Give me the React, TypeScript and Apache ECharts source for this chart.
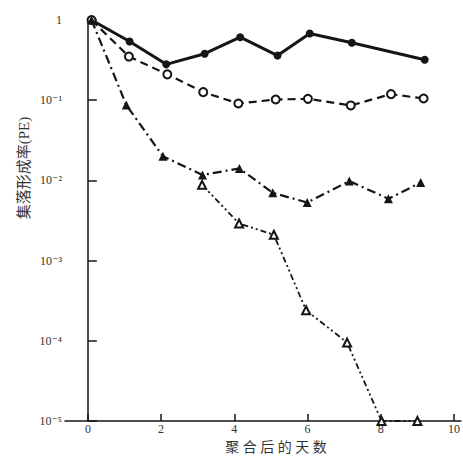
import React, { useEffect, useRef } from "react";
import * as echarts from "echarts";

// Days after aggregation and plating efficiency (PE)
const solidDays = [0.1, 1.14, 2.14, 3.19, 4.16, 5.18, 6.06, 7.21, 9.2];
const solidPE = [1, 0.54, 0.28, 0.38, 0.61, 0.36, 0.68, 0.52, 0.32];

const openCircleDays = [0.1, 1.12, 2.17, 3.15, 4.11, 5.13, 6.01, 7.18, 8.28, 9.17];
const openCirclePE = [1, 0.35, 0.21, 0.126, 0.091, 0.102, 0.104, 0.086, 0.119, 0.105];

const filledTriDays = [0.1, 1.05, 2.05, 3.13, 4.14, 5.05, 5.99, 7.14, 8.21, 9.09];
const filledTriPE = [1, 0.087, 0.02, 0.0117, 0.0141, 0.007, 0.0053, 0.0098, 0.0059, 0.0094];

const openTriDays = [3.12, 4.13, 5.08, 5.96, 7.08, 8.02, 9.0];
const openTriPE = [0.0088, 0.0029, 0.0021, 0.00024, 0.000095, 0.00001, 0.00001];

const xTicks = [0, 2, 4, 6, 8, 10];
const yTickLabels = ["10⁻⁵", "10⁻⁴", "10⁻³", "10⁻²", "10⁻¹", "1"];

const xTitle = "聚 合 后 的 天 数";
const yTitle = "集落形成率(PE)";

const pairs = (xs: number[], ys: number[]) => xs.map((x, i) => [x, ys[i]]);

const INK = "#151515";
const SERIF = "'Liberation Serif', 'DejaVu Serif', 'Noto Sans CJK SC', serif";

export default function App() {
  const ref = useRef<HTMLDivElement>(null);
  useEffect(() => {
    if (!ref.current) return;
    const chart = echarts.init(ref.current, null, { renderer: "svg" });
    chart.setOption({
      animation: false,
      backgroundColor: "#fff",
      grid: { left: 65, right: 0, top: 20, bottom: 40 },
      xAxis: {
        type: "value",
        min: -0.625,
        max: 10.19,
        splitLine: { show: false },
        axisLine: { lineStyle: { color: INK, width: 1.5 } },
        axisTick: {
          inside: true,
          length: 7,
          customValues: xTicks,
          lineStyle: { color: INK, width: 1.5 },
        },
        axisLabel: {
          customValues: xTicks,
          margin: 2,
          fontSize: 12,
          color: "#333",
          fontFamily: SERIF,
        },
      },
      yAxis: {
        type: "log",
        logBase: 10,
        min: 0.00001,
        max: 1,
        splitLine: { show: false },
        axisLine: { show: true, lineStyle: { color: INK, width: 1.5 } },
        axisTick: { show: true, inside: true, length: 9, lineStyle: { color: INK, width: 1.5 } },
        axisLabel: {
          margin: 3,
          fontSize: 12,
          color: "#333",
          fontFamily: SERIF,
          formatter: (v: number) => {
            const k = Math.round(Math.log10(v)) + 5;
            return yTickLabels[k] ?? "";
          },
        },
      },
      graphic: [
        {
          type: "text",
          x: 276,
          y: 447,
          style: {
            text: xTitle,
            fill: "#333",
            fontSize: 14,
            fontFamily: SERIF,
            textAlign: "center",
            textVerticalAlign: "middle",
          },
        },
        {
          type: "text",
          x: 24,
          y: 168,
          rotation: Math.PI / 2,
          style: {
            text: yTitle,
            fill: "#333",
            fontSize: 15,
            fontFamily: SERIF,
            textAlign: "center",
            textVerticalAlign: "middle",
          },
        },
      ],
      series: [
        {
          type: "line",
          data: pairs(openTriDays, openTriPE),
          symbol: "emptyTriangle",
          symbolSize: 8,
          lineStyle: { color: INK, width: 1.8, type: [6, 3, 2, 3, 2, 3] },
          itemStyle: { color: INK, borderWidth: 1.5 },
          z: 2,
        },
        {
          type: "line",
          data: pairs(solidDays, solidPE),
          symbol: "circle",
          symbolSize: 8,
          lineStyle: { color: INK, width: 3 },
          itemStyle: { color: INK },
          z: 3,
        },
        {
          type: "line",
          data: pairs(openCircleDays, openCirclePE),
          symbol: "emptyCircle",
          symbolSize: 8,
          lineStyle: { color: INK, width: 2.2, type: [8, 5] },
          itemStyle: { color: INK, borderWidth: 1.5 },
          z: 3,
        },
        {
          type: "line",
          data: pairs(filledTriDays, filledTriPE),
          symbol: "triangle",
          symbolSize: 9,
          lineStyle: { color: INK, width: 2.2, type: [9, 4, 2, 4] },
          itemStyle: { color: INK },
          z: 4,
        },
      ],
    });
    return () => chart.dispose();
  }, []);
  return <div ref={ref} style={{ width: 463, height: 461, position: "fixed", left: 0, top: 0 }} />;
}
